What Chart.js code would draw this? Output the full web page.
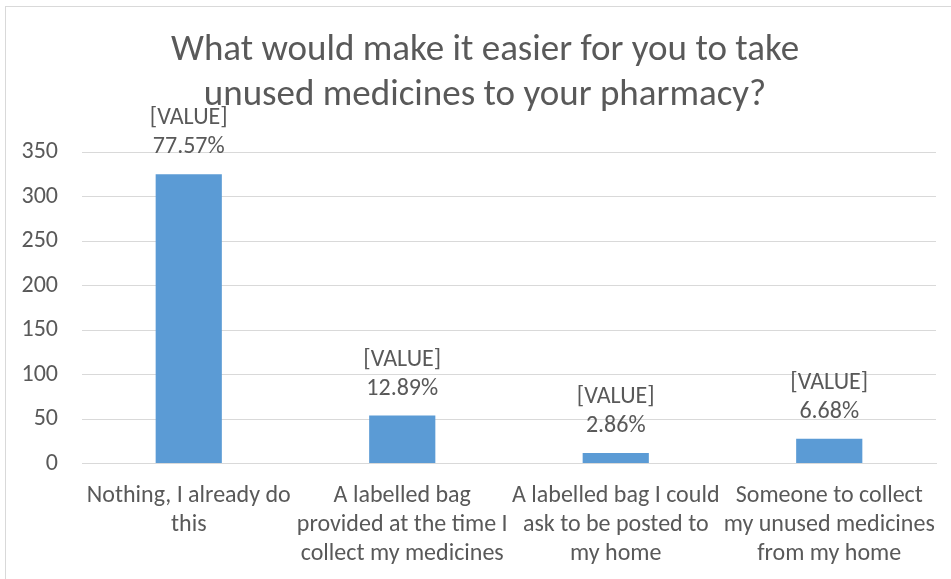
<!DOCTYPE html>
<html>
<head>
<meta charset="utf-8">
<script src="https://cdn.jsdelivr.net/npm/chart.js@4"></script>
<style>
html,body{margin:0;padding:0;background:#fff;overflow:hidden;}
#frame{position:absolute;left:5px;top:6px;width:1000px;height:1000px;border:1px solid #d9d9d9;box-sizing:border-box;}
#wrap{position:absolute;left:0;top:0;width:951px;height:579px;}
</style>
</head>
<body>
<div id="frame"></div>
<div id="wrap"><canvas id="c" width="951" height="579"></canvas></div>
<script>
const titleLines = ["What would make it easier for you to take", "unused medicines to your pharmacy?"];
const categories = [
  ["Nothing, I already do", "this"],
  ["A labelled bag", "provided at the time I", "collect my medicines"],
  ["A labelled bag I could", "ask to be posted to", "my home"],
  ["Someone to collect", "my unused medicines", "from my home"]
];
const counts = [325, 54, 12, 28];
const percentLabels = ["77.57%", "12.89%", "2.86%", "6.68%"];
const valuePlaceholder = "[VALUE]";
const yTicks = [0, 50, 100, 150, 200, 250, 300, 350];

const FONT = "Carlito, Calibri, 'Liberation Sans Narrow', 'Open Sans', sans-serif";
const GREY = "#595959";

const titlePlugin = {
  id: 'chartTitle',
  afterDraw(chart) {
    const ctx = chart.ctx;
    ctx.save();
    ctx.font = "37px " + FONT;
    ctx.fillStyle = GREY;
    ctx.textAlign = "center";
    ctx.textBaseline = "middle";
    titleLines.forEach((t, i) => ctx.fillText(t, 485, 51 + i * 44.5));
    ctx.restore();
  }
};

const labelPlugin = {
  id: 'barLabels',
  afterDatasetsDraw(chart) {
    const ctx = chart.ctx;
    const meta = chart.getDatasetMeta(0);
    ctx.save();
    ctx.font = "24px " + FONT;
    ctx.fillStyle = GREY;
    ctx.textAlign = "center";
    ctx.textBaseline = "middle";
    meta.data.forEach((bar, i) => {
      const x = bar.x, top = bar.y;
      ctx.fillText(percentLabels[i], x, top - 27);
      ctx.fillText(valuePlaceholder, x, top - 56);
    });
    ctx.restore();
  }
};

new Chart(document.getElementById('c'), {
  type: 'bar',
  data: {
    labels: categories,
    datasets: [{
      data: counts,
      backgroundColor: '#5b9bd5',
      borderWidth: 0,
      categoryPercentage: 1,
      barPercentage: 0.31
    }]
  },
  options: {
    responsive: false,
    animation: false,
    devicePixelRatio: 1,
    layout: { padding: { left: 0, right: 15, top: 152, bottom: 1 } },
    plugins: {
      legend: { display: false },
      tooltip: { enabled: false },
      title: { display: false }
    },
    scales: {
      y: {
        min: 0, max: 350,
        afterFit(scale) { scale.width = 82; },
        afterBuildTicks(scale) { scale.ticks = yTicks.map(v => ({ value: v })); },
        grid: { color: '#d9d9d9', lineWidth: 1, drawTicks: false },
        border: { display: false },
        ticks: { color: GREY, font: { family: FONT, size: 24 }, padding: 24 }
      },
      x: {
        grid: { display: false },
        border: { display: true, color: '#d9d9d9' },
        ticks: { color: GREY, font: { family: FONT, size: 24, lineHeight: 1.2 }, padding: 10, maxRotation: 0, autoSkip: false }
      }
    }
  },
  plugins: [labelPlugin, titlePlugin]
});
</script>
</body>
</html>
